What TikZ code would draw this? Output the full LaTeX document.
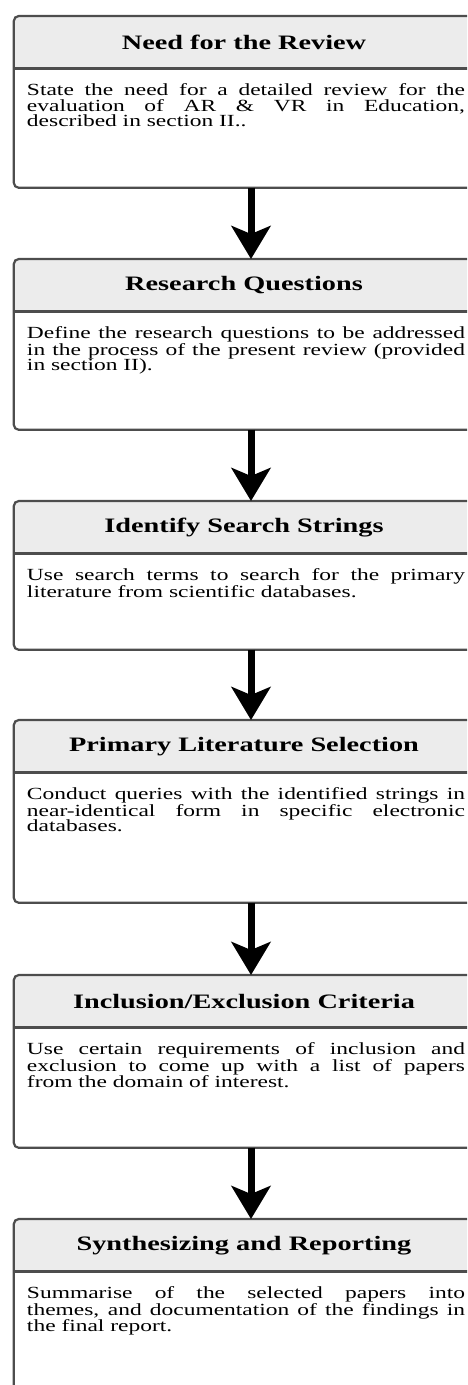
\documentclass[tikz,border=0pt]{standalone}
\usepackage{fontspec}
\setmainfont{Liberation Serif}[FakeStretch=1.38]
\usetikzlibrary{arrows.meta,positioning}

\definecolor{framegray}{HTML}{4D4D4D}
\definecolor{headgray}{HTML}{ECECEC}

% justified lines are broken by hand, let them stretch
\tolerance=10000
\hbadness=10000

\tikzset{
    head/.style={anchor=north, minimum width=460pt, minimum height=52pt, inner sep=0pt, fill=headgray,
        font=\bfseries\fontsize{20.5}{22}\selectfont},
    body/.style={below=0pt of #1, xshift=2pt, text width=438pt, inner sep=0pt, text height=27pt,
        align=justify, font=\fontsize{17}{15.5}\selectfont},
    frame/.style={draw=framegray, line width=2.2pt, rounded corners=5pt},
    flow/.style={draw=black, line width=7pt, -{Stealth[length=33pt,width=39pt,inset=8pt]}}
}

\begin{document}
\begin{tikzpicture}[x=1pt, y=-1pt]
    \useasboundingbox (0,0) rectangle (467,1385);
    \clip (0,0) rectangle (467,1385);

    \node[head] (h1) at (244,16) {Need for the Review};
    \node[body=h1, text depth=92pt] (b1) {State the need for a detailed review for the\linebreak
        evaluation of AR \& VR in Education,\linebreak described in section II..};

    \node[head] (h2) at (244,259) {Research Questions};
    \node[body=h2, text depth=91pt] (b2) {Define the research questions to be addressed\linebreak
        in the process of the present review (provided\linebreak in section II).};

    \node[head] (h3) at (244,501) {Identify Search Strings};
    \node[body=h3, text depth=69pt] (b3) {Use search terms to search for the primary\linebreak
        literature from scientific databases.};

    \node[head] (h4) at (244,720) {Primary Literature Selection};
    \node[body=h4, text depth=103pt] (b4) {Conduct queries with the identified strings in\linebreak
        near-identical form in specific electronic\linebreak databases.};

    \node[head] (h5) at (244,975) {Inclusion/Exclusion Criteria};
    \node[body=h5, text depth=93pt] (b5) {Use certain requirements of inclusion and\linebreak
        exclusion to come up with a list of papers\linebreak from the domain of interest.};

    \node[head] (h6) at (244,1219) {Synthesizing and Reporting};
    \node[body=h6, text depth=150pt] (b6) {Summarise of the selected papers into\linebreak
        themes, and documentation of the findings in\linebreak the final report.};

    % outline of every step, title bar split off
    \foreach \i in {1,...,6} {
        \draw[frame] (h\i.north west) rectangle (h\i.east |- b\i.south);
        \draw[frame] (h\i.south west) -- (h\i.south east);
    }

    \foreach \a/\b in {1/2,2/3,3/4,4/5,5/6}
        \draw[flow] ([xshift=7pt]h\a.north |- b\a.south) -- ([xshift=7pt]h\b.north);
\end{tikzpicture}
\end{document}
